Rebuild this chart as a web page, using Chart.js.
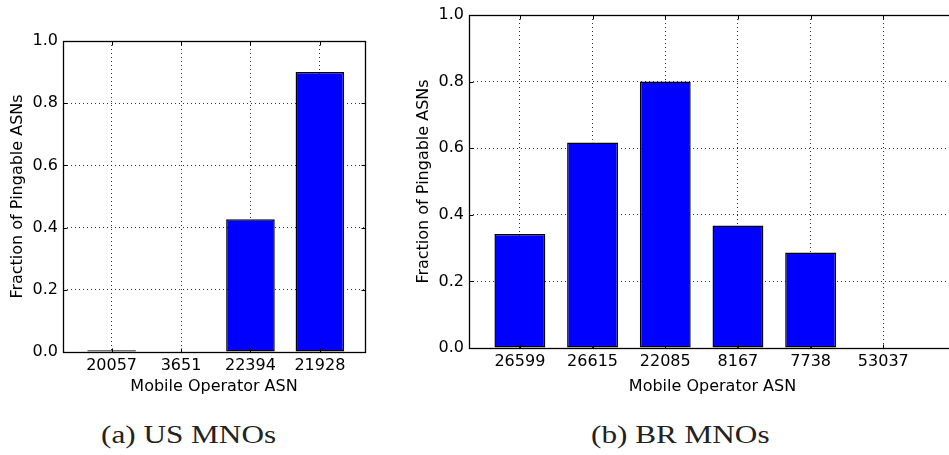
<!DOCTYPE html>
<html>
<head>
<meta charset="utf-8">
<title>Pingable ASNs per Mobile Operator</title>
<script src="https://cdn.jsdelivr.net/npm/chart.js@4.4.1/dist/chart.umd.min.js"></script>
<style>
    html, body {
        margin: 0;
        padding: 0;
        background: #fff;
        overflow: hidden;
    }
    body {
        position: relative;
        width: 949px;
        height: 455px;
    }
    canvas {
        position: absolute;
        top: 0;
    }
    #usChart { left: 0; }
    #brChart { left: 406px; }
    .caption {
        position: absolute;
        top: 422px;
        font-family: 'Liberation Serif', 'DejaVu Serif', serif;
        font-size: 26px;
        line-height: 26px;
        color: #222;
        white-space: nowrap;
        transform-origin: left center;
        transform: scaleX(1.2);
    }
    #capUS { left: 101px; }
    #capBR { left: 591px; }
</style>
</head>
<body>
<canvas id="usChart" width="390" height="400"></canvas>
<canvas id="brChart" width="550" height="400"></canvas>
<div class="caption" id="capUS">(a) US MNOs</div>
<div class="caption" id="capBR">(b) BR MNOs</div>

<script>
// ========== Data ==========
const usAsns = ['20057', '3651', '22394', '21928'];
const usFraction = [0.006, 0, 0.427, 0.9];

const brAsns = ['26599', '26615', '22085', '8167', '7738', '53037'];
const brFraction = [0.342, 0.617, 0.8, 0.368, 0.287, 0];

const yTicks = [0, 0.2, 0.4, 0.6, 0.8, 1.0];

const FONT = "'DejaVu Sans', sans-serif";
const FONT_SIZE = 16;

// ========== Frame + inward tick marks (classic look) ==========
const frameAndTicks = {
    id: 'frameAndTicks',
    afterDraw(chart) {
        const { ctx, chartArea: a, scales } = chart;
        const left = Math.round(a.left) + 0.5;
        const top = Math.round(a.top) + 0.5;
        const right = Math.round(a.right) + 0.5;
        const bottom = Math.round(a.bottom) + 0.5;
        const len = 4;

        ctx.save();
        ctx.strokeStyle = '#000';
        ctx.lineWidth = 1.3;
        ctx.setLineDash([]);
        ctx.strokeRect(left, top, right - left, bottom - top);

        ctx.lineWidth = 1;
        ctx.beginPath();
        scales.x.ticks.forEach(t => {
            const px = Math.round(scales.x.getPixelForValue(t.value)) + 0.5;
            ctx.moveTo(px, bottom); ctx.lineTo(px, bottom - len);
            ctx.moveTo(px, top); ctx.lineTo(px, top + len);
        });
        scales.y.ticks.forEach(t => {
            const py = Math.round(scales.y.getPixelForValue(t.value)) + 0.5;
            ctx.moveTo(left, py); ctx.lineTo(left + len, py);
            ctx.moveTo(right, py); ctx.lineTo(right - len, py);
        });
        ctx.stroke();
        ctx.restore();
    }
};

// ========== Build one bar panel ==========
function initChart(canvasId, asns, values, opts) {
    const ctx = document.getElementById(canvasId);

    const gridStyle = {
        color: 'rgba(0, 0, 0, 0.8)',
        lineWidth: 1,
        drawTicks: false,
        offset: false
    };

    return new Chart(ctx, {
        type: 'bar',
        data: {
            datasets: [{
                data: values.map((v, i) => ({ x: i, y: v })),
                backgroundColor: '#0000ff',
                borderColor: '#000',
                borderWidth: 1.5,
                borderSkipped: false,
                barPercentage: 0.7,
                categoryPercentage: 1.0
            }]
        },
        options: {
            responsive: false,
            animation: false,
            layout: {
                padding: { top: opts.top, right: opts.right, left: 0, bottom: 0 }
            },
            plugins: {
                legend: { display: false },
                tooltip: { enabled: false }
            },
            scales: {
                x: {
                    type: 'linear',
                    offset: false,
                    min: -0.7,
                    max: opts.xMax,
                    z: 1,
                    afterBuildTicks: s => { s.ticks = asns.map((_, i) => ({ value: i })); },
                    afterFit: s => { s.height = opts.xHeight; },
                    grid: gridStyle,
                    border: { display: false, dash: [1, 3] },
                    ticks: {
                        autoSkip: false,
                        maxRotation: 0,
                        padding: 4,
                        color: '#000',
                        font: { family: FONT, size: FONT_SIZE },
                        callback: v => asns[v]
                    },
                    title: {
                        display: true,
                        text: 'Mobile Operator ASN',
                        color: '#000',
                        font: { family: FONT, size: FONT_SIZE },
                        padding: { top: 0, bottom: 4 }
                    }
                },
                y: {
                    min: 0,
                    max: 1,
                    z: 1,
                    afterBuildTicks: s => { s.ticks = yTicks.map(v => ({ value: v })); },
                    afterFit: s => { s.width = 63; },
                    grid: gridStyle,
                    border: { display: false, dash: [1, 3] },
                    ticks: {
                        padding: 5,
                        color: '#000',
                        font: { family: FONT, size: FONT_SIZE },
                        callback: v => Number(v).toFixed(1)
                    },
                    title: {
                        display: true,
                        text: 'Fraction of Pingable ASNs',
                        color: '#000',
                        font: { family: FONT, size: FONT_SIZE },
                        padding: { top: 8, bottom: 0 }
                    }
                }
            }
        },
        plugins: [frameAndTicks]
    });
}

document.addEventListener('DOMContentLoaded', () => {
    initChart('usChart', usAsns, usFraction, { top: 41, right: 25, xMax: 3.65, xHeight: 48 });
    initChart('brChart', brAsns, brFraction, { top: 15, right: 0, xMax: 6.0, xHeight: 52 });
});
</script>
</body>
</html>
